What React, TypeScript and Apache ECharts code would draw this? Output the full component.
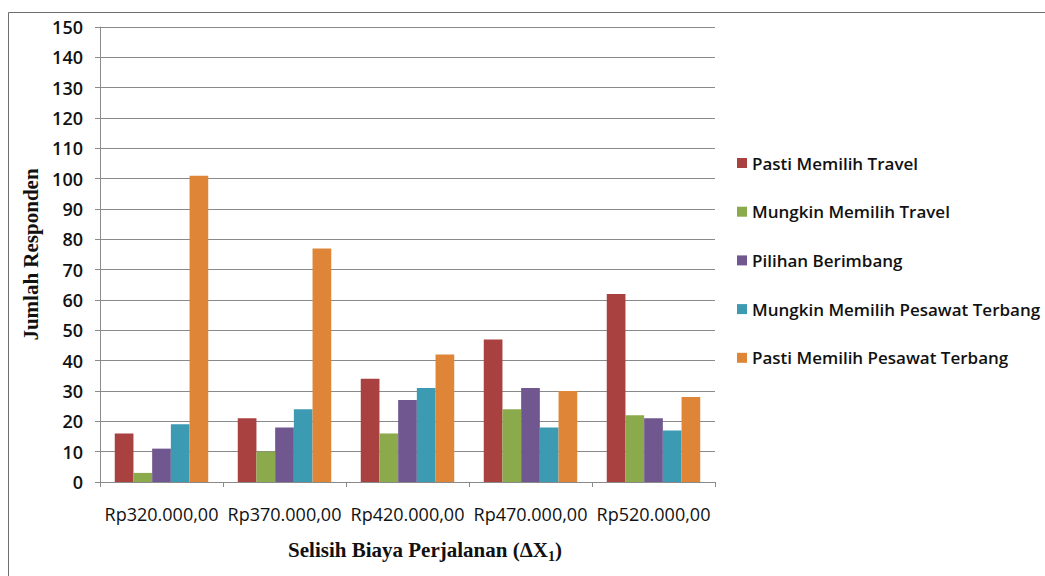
import React, { useEffect, useRef } from "react";
import * as echarts from "echarts";

const categories = [
  "Rp320.000,00",
  "Rp370.000,00",
  "Rp420.000,00",
  "Rp470.000,00",
  "Rp520.000,00",
];

const pastiTravel = [16, 21, 34, 47, 62];
const mungkinTravel = [3, 10, 16, 24, 22];
const berimbang = [11, 18, 27, 31, 21];
const mungkinPesawat = [19, 24, 31, 18, 17];
const pastiPesawat = [101, 77, 42, 30, 28];

const seriesDefs = [
  { name: "Pasti Memilih Travel", data: pastiTravel, color: "#A8413F" },
  { name: "Mungkin Memilih Travel", data: mungkinTravel, color: "#8BAA4C" },
  { name: "Pilihan Berimbang", data: berimbang, color: "#71578F" },
  { name: "Mungkin Memilih Pesawat Terbang", data: mungkinPesawat, color: "#3C9AB3" },
  { name: "Pasti Memilih Pesawat Terbang", data: pastiPesawat, color: "#DE8538" },
];

const LABEL_FONT = "'Open Sans', 'Noto Sans', sans-serif";
const TITLE_FONT = "'Liberation Serif', 'DejaVu Serif', serif";

export default function App() {
  const ref = useRef<HTMLDivElement>(null);

  useEffect(() => {
    document.body.style.margin = "0";
    if (!ref.current) return;
    const chart = echarts.init(ref.current, undefined, { renderer: "svg" });
    chart.setOption({
      animation: false,
      backgroundColor: "#ffffff",
      grid: { left: 100, right: 330, top: 27, bottom: 94 },
      legend: {
        orient: "vertical",
        left: 737,
        top: 154,
        padding: 0,
        itemWidth: 10,
        itemHeight: 10,
        itemGap: 30.7,
        icon: "rect",
        textStyle: {
          fontFamily: LABEL_FONT,
          fontSize: 17,
          fontWeight: 600,
          color: "#111",
          lineHeight: 18,
        },
        data: seriesDefs.map((s) => s.name),
      },
      xAxis: {
        type: "category",
        data: categories,
        axisLine: { lineStyle: { color: "#8a8a8a", width: 1 } },
        axisTick: { show: true, length: 5, lineStyle: { color: "#8a8a8a" } },
        axisLabel: {
          interval: 0,
          margin: 23,
          fontFamily: LABEL_FONT,
          fontSize: 18,
          color: "#111",
        },
      },
      yAxis: {
        type: "value",
        min: 0,
        max: 150,
        interval: 10,
        name: "Jumlah Responden",
        nameLocation: "middle",
        nameRotate: 90,
        nameGap: 58,
        nameTextStyle: {
          fontFamily: TITLE_FONT,
          fontSize: 21,
          fontWeight: "bold",
          color: "#111",
        },
        axisLine: { show: true, lineStyle: { color: "#8a8a8a", width: 1 } },
        axisTick: { show: true, length: 5, lineStyle: { color: "#8a8a8a" } },
        splitLine: { show: true, lineStyle: { color: "#8a8a8a", width: 1 } },
        axisLabel: {
          margin: 17,
          fontFamily: LABEL_FONT,
          fontSize: 18,
          fontWeight: 600,
          color: "#111",
        },
      },
      series: seriesDefs.map((s) => ({
        name: s.name,
        type: "bar",
        data: s.data,
        itemStyle: { color: s.color },
        barGap: "0%",
        barCategoryGap: "24%",
      })),
      graphic: [
        {
          type: "rect",
          silent: true,
          shape: { x: 8.5, y: 12.5, width: 1100, height: 700 },
          style: { fill: "none", stroke: "#6e6e6e", lineWidth: 1 },
        },
        {
          type: "text",
          x: 425,
          y: 550,
          style: {
            text: "{m|Selisih Biaya Perjalanan (ΔX}{s|1}{m|)}",
            align: "center",
            verticalAlign: "middle",
            rich: {
              m: {
                fontFamily: TITLE_FONT,
                fontSize: 21,
                fontWeight: "bold",
                fill: "#111",
              },
              s: {
                fontFamily: TITLE_FONT,
                fontSize: 14,
                fontWeight: "bold",
                fill: "#111",
                padding: [12, 0, 0, 0],
              },
            },
          },
        },
      ],
    });
    return () => chart.dispose();
  }, []);

  return <div ref={ref} style={{ width: 1045, height: 576 }} />;
}
